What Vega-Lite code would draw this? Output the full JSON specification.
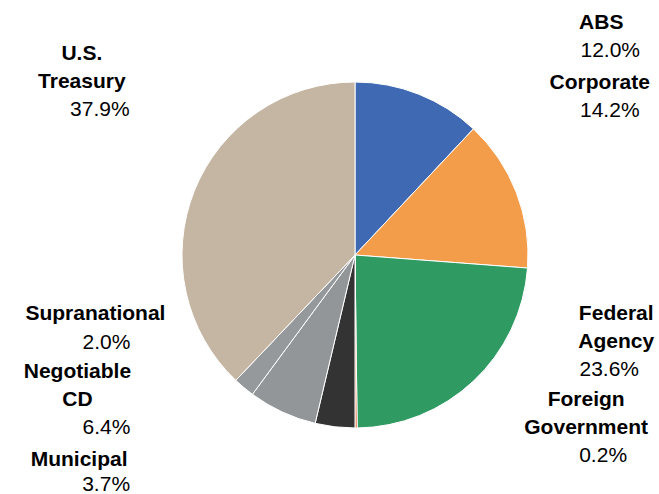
{
  "$schema": "https://vega.github.io/schema/vega-lite/v6.json",
  "width": 608,
  "height": 478,
  "autosize": {"type": "none"},
  "padding": {"left": 51, "top": 16, "right": 0, "bottom": 0},
  "background": "white",
  "view": {"stroke": null},
  "config": {"text": {"font": "Liberation Sans", "fontSize": 21, "color": "#000000", "align": "center", "baseline": "middle", "lineBreak": "\n", "lineHeight": 28}},
  "data": {"values": [
    {"category": "ABS", "name": "ABS", "value": 12.0, "label": "12.0%", "rank": 1},
    {"category": "Corporate", "name": "Corporate", "value": 14.2, "label": "14.2%", "rank": 2},
    {"category": "Federal Agency", "name": "Federal\nAgency", "value": 23.6, "label": "23.6%", "rank": 3},
    {"category": "Foreign Government", "name": "Foreign\nGovernment", "value": 0.2, "label": "0.2%", "rank": 4},
    {"category": "Municipal", "name": "Municipal", "value": 3.7, "label": "3.7%", "rank": 5},
    {"category": "Negotiable CD", "name": "Negotiable\nCD", "value": 6.4, "label": "6.4%", "rank": 6},
    {"category": "Supranational", "name": "Supranational", "value": 2.0, "label": "2.0%", "rank": 7},
    {"category": "U.S. Treasury", "name": "U.S.\nTreasury", "value": 37.9, "label": "37.9%", "rank": 8}
  ]},
  "encoding": {
    "theta": {"field": "value", "type": "quantitative", "stack": true},
    "order": {"field": "rank", "type": "quantitative"}
  },
  "layer": [
    {
      "mark": {"type": "arc", "outerRadius": 173, "stroke": "white", "strokeWidth": 1},
      "encoding": {
        "color": {"field": "category", "type": "nominal", "legend": null,
          "scale": {"domain": ["ABS", "Corporate", "Federal Agency", "Foreign Government", "Municipal", "Negotiable CD", "Supranational", "U.S. Treasury"],
                    "range": ["#3F6AB3", "#F39C4A", "#2F9A62", "#DD5A1E", "#333333", "#929698", "#95999B", "#C5B6A3"]}}
      }
    },
    {"mark": {"type": "text", "radius": 180, "fontWeight": "bold", "dx": 180, "dy": -65},
     "encoding": {"text": {"condition": {"test": "datum.category === 'ABS'", "field": "name"}, "value": ""}}},
    {"mark": {"type": "text", "radius": 180, "dx": 189, "dy": -37},
     "encoding": {"text": {"condition": {"test": "datum.category === 'ABS'", "field": "label"}, "value": ""}}},
    {"mark": {"type": "text", "radius": 180, "fontWeight": "bold", "dx": 77, "dy": -107},
     "encoding": {"text": {"condition": {"test": "datum.category === 'Corporate'", "field": "name"}, "value": ""}}},
    {"mark": {"type": "text", "radius": 180, "dx": 87, "dy": -79},
     "encoding": {"text": {"condition": {"test": "datum.category === 'Corporate'", "field": "label"}, "value": ""}}},
    {"mark": {"type": "text", "radius": 180, "fontWeight": "bold", "dx": 138, "dy": -72},
     "encoding": {"text": {"condition": {"test": "datum.category === 'Federal Agency'", "field": "name"}, "value": ""}}},
    {"mark": {"type": "text", "radius": 180, "dx": 131, "dy": -16},
     "encoding": {"text": {"condition": {"test": "datum.category === 'Federal Agency'", "field": "label"}, "value": ""}}},
    {"mark": {"type": "text", "radius": 180, "fontWeight": "bold", "dx": 230, "dy": -35},
     "encoding": {"text": {"condition": {"test": "datum.category === 'Foreign Government'", "field": "name"}, "value": ""}}},
    {"mark": {"type": "text", "radius": 180, "dx": 247, "dy": 21},
     "encoding": {"text": {"condition": {"test": "datum.category === 'Foreign Government'", "field": "label"}, "value": ""}}},
    {"mark": {"type": "text", "radius": 180, "fontWeight": "bold", "dx": -255, "dy": 26},
     "encoding": {"text": {"condition": {"test": "datum.category === 'Municipal'", "field": "name"}, "value": ""}}},
    {"mark": {"type": "text", "radius": 180, "dx": -228, "dy": 51},
     "encoding": {"text": {"condition": {"test": "datum.category === 'Municipal'", "field": "label"}, "value": ""}}},
    {"mark": {"type": "text", "radius": 180, "fontWeight": "bold", "dx": -202, "dy": -46},
     "encoding": {"text": {"condition": {"test": "datum.category === 'Negotiable CD'", "field": "name"}, "value": ""}}},
    {"mark": {"type": "text", "radius": 180, "dx": -173, "dy": 10},
     "encoding": {"text": {"condition": {"test": "datum.category === 'Negotiable CD'", "field": "label"}, "value": ""}}},
    {"mark": {"type": "text", "radius": 180, "fontWeight": "bold", "dx": -144, "dy": -79},
     "encoding": {"text": {"condition": {"test": "datum.category === 'Supranational'", "field": "name"}, "value": ""}}},
    {"mark": {"type": "text", "radius": 180, "dx": -133, "dy": -50},
     "encoding": {"text": {"condition": {"test": "datum.category === 'Supranational'", "field": "label"}, "value": ""}}},
    {"mark": {"type": "text", "radius": 180, "fontWeight": "bold", "dx": -106, "dy": -134},
     "encoding": {"text": {"condition": {"test": "datum.category === 'U.S. Treasury'", "field": "name"}, "value": ""}}},
    {"mark": {"type": "text", "radius": 180, "dx": -88, "dy": -78},
     "encoding": {"text": {"condition": {"test": "datum.category === 'U.S. Treasury'", "field": "label"}, "value": ""}}}
  ]
}
